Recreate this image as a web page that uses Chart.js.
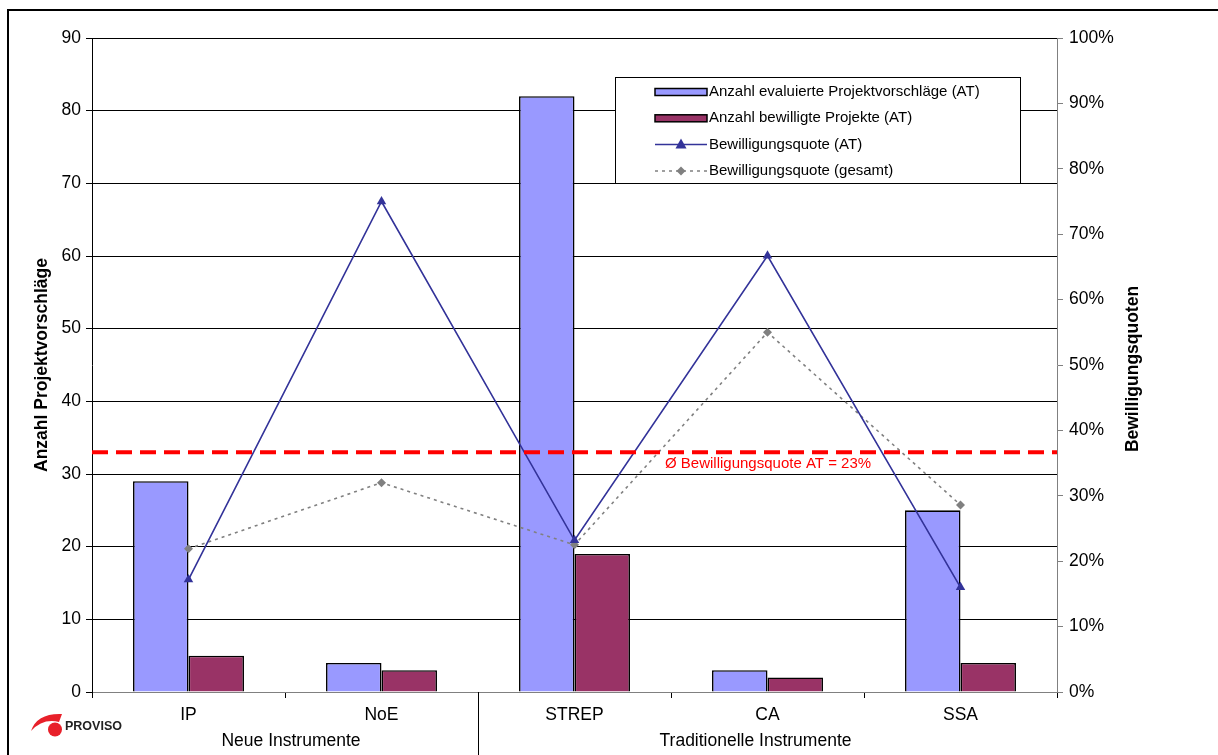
<!DOCTYPE html>
<html>
<head>
<meta charset="utf-8">
<script src="https://cdn.jsdelivr.net/npm/chart.js@4/dist/chart.umd.min.js"></script>
<style>
  html, body { margin: 0; padding: 0; background: #fff; }
  #wrap { width: 1218px; height: 755px; position: relative; }
</style>
</head>
<body>
<div id="wrap"><canvas id="chart" width="1218" height="755"></canvas></div>
<script>
// Instrumente und Werte
const instruments = ["IP", "NoE", "STREP", "CA", "SSA"];
const groups = [
    { label: "Neue Instrumente", from: 0, to: 1, shift: 6 },
    { label: "Traditionelle Instrumente", from: 2, to: 4, shift: -12 }
];
const evaluatedProposals = [29, 4, 82, 3, 25];
const approvedProjects = [5, 3, 19, 2, 4];
const approvalRateAT = [17.2, 75.0, 23.2, 66.7, 16.0];
const approvalRateTotal = [21.9, 32.0, 22.5, 55.0, 28.6];
const countTicks = [0, 10, 20, 30, 40, 50, 60, 70, 80, 90];
const rateTicks = [0, 10, 20, 30, 40, 50, 60, 70, 80, 90, 100];

// Ø-Linie (auf der linken Achse eingezeichnet)
const averageLineLevel = 33;
const averageLineLabel = "Ø Bewilligungsquote AT = 23%";

const FONT = "'Liberation Sans', Arial, sans-serif";
const BLUE = "#9999FF";
const WINE = "#993366";
const NAVY = "#333399";
const GREY = "#808080";

const legendItems = [
    { type: "bar", color: BLUE, text: "Anzahl evaluierte Projektvorschläge (AT)" },
    { type: "bar", color: WINE, text: "Anzahl bewilligte Projekte (AT)" },
    { type: "line", color: NAVY, text: "Bewilligungsquote (AT)" },
    { type: "dotted", color: GREY, text: "Bewilligungsquote (gesamt)" }
];

function drawTriangle(ctx, x, y, r, color) {
    ctx.beginPath();
    ctx.moveTo(x, y - r);
    ctx.lineTo(x + r, y + r * 0.8);
    ctx.lineTo(x - r, y + r * 0.8);
    ctx.closePath();
    ctx.fillStyle = color;
    ctx.fill();
}

function drawDiamond(ctx, x, y, r, color) {
    ctx.beginPath();
    ctx.moveTo(x, y - r);
    ctx.lineTo(x + r, y);
    ctx.lineTo(x, y + r);
    ctx.lineTo(x - r, y);
    ctx.closePath();
    ctx.fillStyle = color;
    ctx.fill();
}

const decorations = {
    id: "decorations",
    afterDatasetsDraw(chart) {
        const { ctx, chartArea, scales } = chart;
        const yL = scales.y;

        // rote Ø-Linie
        const ya = yL.getPixelForValue(averageLineLevel);
        ctx.save();
        ctx.strokeStyle = "#FF0000";
        ctx.lineWidth = 4;
        ctx.setLineDash([16, 8]);
        ctx.beginPath();
        ctx.moveTo(chartArea.left, ya);
        ctx.lineTo(chartArea.right, ya);
        ctx.stroke();
        ctx.setLineDash([]);
        ctx.fillStyle = "#FF0000";
        ctx.font = "15px " + FONT;
        ctx.textAlign = "left";
        ctx.textBaseline = "middle";
        ctx.fillText(averageLineLabel, 665, ya + 12);
        ctx.restore();

        // Legende
        ctx.save();
        const lx = 615, ly = 77, lw = 405, lh = 106;
        ctx.fillStyle = "#fff";
        ctx.fillRect(lx, ly, lw, lh);
        ctx.strokeStyle = "#000";
        ctx.lineWidth = 1;
        ctx.strokeRect(lx + 0.5, ly + 0.5, lw, lh);
        ctx.font = "15px " + FONT;
        ctx.textBaseline = "middle";
        ctx.textAlign = "left";
        legendItems.forEach((item, i) => {
            const cy = 92 + i * 26.3;
            if (item.type === "bar") {
                ctx.fillStyle = item.color;
                ctx.fillRect(655, cy - 3.5, 52, 7);
                ctx.strokeStyle = "#000";
                ctx.lineWidth = 1.5;
                ctx.strokeRect(655, cy - 3.5, 52, 7);
            } else if (item.type === "line") {
                ctx.strokeStyle = item.color;
                ctx.lineWidth = 1.5;
                ctx.beginPath();
                ctx.moveTo(655, cy);
                ctx.lineTo(707, cy);
                ctx.stroke();
                drawTriangle(ctx, 681, cy - 0.5, 5.5, item.color);
            } else {
                ctx.strokeStyle = item.color;
                ctx.lineWidth = 1.5;
                ctx.setLineDash([3, 4]);
                ctx.beginPath();
                ctx.moveTo(655, cy);
                ctx.lineTo(707, cy);
                ctx.stroke();
                ctx.setLineDash([]);
                drawDiamond(ctx, 681, cy, 4.5, item.color);
            }
            ctx.fillStyle = "#000";
            ctx.fillText(item.text, 709, cy);
        });
        ctx.restore();
    },
    afterDraw(chart) {
        const { ctx, chartArea } = chart;
        const step = (chartArea.right - chartArea.left) / instruments.length;

        ctx.save();
        // Gruppentrenner und Gruppenbeschriftung
        ctx.strokeStyle = "#000";
        ctx.lineWidth = 1;
        groups.forEach(g => {
            const left = chartArea.left + g.from * step;
            const right = chartArea.left + (g.to + 1) * step;
            if (g.from > 0) {
                ctx.beginPath();
                ctx.moveTo(Math.round(left) + 0.5, chartArea.bottom);
                ctx.lineTo(Math.round(left) + 0.5, 755);
                ctx.stroke();
            }
            ctx.fillStyle = "#000";
            ctx.font = "17.5px " + FONT;
            ctx.textAlign = "center";
            ctx.textBaseline = "middle";
            ctx.fillText(g.label, (left + right) / 2 + g.shift, 741);
        });

        // Achsentitel
        ctx.font = "bold 17.5px " + FONT;
        ctx.fillStyle = "#000";
        ctx.textAlign = "center";
        ctx.textBaseline = "middle";
        ctx.save();
        ctx.translate(42, 365);
        ctx.rotate(-Math.PI / 2);
        ctx.fillText("Anzahl Projektvorschläge", 0, 0);
        ctx.restore();
        ctx.save();
        ctx.translate(1133, 369);
        ctx.rotate(-Math.PI / 2);
        ctx.fillText("Bewilligungsquoten", 0, 0);
        ctx.restore();

        // Rahmen
        ctx.strokeStyle = "#000";
        ctx.lineWidth = 2;
        ctx.strokeRect(8, 10, 1400, 900);

        // Logo
        ctx.fillStyle = "#E8202A";
        ctx.beginPath();
        ctx.moveTo(31, 731);
        ctx.quadraticCurveTo(37, 713, 62, 714);
        ctx.lineTo(59, 722);
        ctx.quadraticCurveTo(43, 718, 31, 731);
        ctx.closePath();
        ctx.fill();
        ctx.beginPath();
        ctx.arc(55, 729.5, 7, 0, Math.PI * 2);
        ctx.fill();
        ctx.fillStyle = "#222";
        ctx.font = "bold 12.5px " + FONT;
        ctx.textAlign = "left";
        ctx.fillText("PROVISO", 65, 727);
        ctx.restore();
    }
};

new Chart(document.getElementById("chart"), {
    type: "bar",
    data: {
        labels: instruments,
        datasets: [
            {
                label: "Anzahl evaluierte Projektvorschläge (AT)",
                data: evaluatedProposals,
                backgroundColor: BLUE,
                borderColor: "#000",
                borderWidth: 1.6,
                yAxisID: "y",
                order: 2
            },
            {
                label: "Anzahl bewilligte Projekte (AT)",
                data: approvedProjects,
                backgroundColor: WINE,
                borderColor: "#000",
                borderWidth: 1.6,
                yAxisID: "y",
                order: 2
            },
            {
                type: "line",
                label: "Bewilligungsquote (gesamt)",
                data: approvalRateTotal,
                borderColor: GREY,
                borderWidth: 1.6,
                borderDash: [3, 4],
                pointStyle: "rectRot",
                pointRadius: 4.5,
                pointBackgroundColor: GREY,
                pointBorderColor: GREY,
                pointBorderWidth: 0,
                tension: 0,
                yAxisID: "y1",
                order: 1
            },
            {
                type: "line",
                label: "Bewilligungsquote (AT)",
                data: approvalRateAT,
                borderColor: NAVY,
                borderWidth: 1.6,
                pointStyle: "triangle",
                pointRadius: 5.5,
                pointBackgroundColor: NAVY,
                pointBorderColor: NAVY,
                pointBorderWidth: 0,
                tension: 0,
                yAxisID: "y1",
                order: 0
            }
        ]
    },
    options: {
        responsive: false,
        animation: false,
        events: [],
        layout: {
            padding: { top: 38, left: 0, right: 0, bottom: 0 }
        },
        datasets: {
            bar: {
                categoryPercentage: 0.575,
                barPercentage: 1
            }
        },
        plugins: {
            legend: { display: false },
            tooltip: { enabled: false }
        },
        scales: {
            x: {
                offset: true,
                afterFit(scale) { scale.height = 63; },
                grid: {
                    offset: true,
                    drawOnChartArea: false,
                    drawTicks: true,
                    tickLength: 6,
                    color: "#000"
                },
                border: { display: true, color: GREY, width: 1 },
                ticks: {
                    color: "#000",
                    padding: 7,
                    font: { family: FONT, size: 17.5 }
                }
            },
            y: {
                position: "left",
                min: 0,
                max: 90,
                afterFit(scale) { scale.width = 92; },
                afterBuildTicks(scale) { scale.ticks = countTicks.map(v => ({ value: v })); },
                grid: {
                    color: "#000",
                    lineWidth: 1,
                    tickLength: 6,
                    drawTicks: true
                },
                border: { display: true, color: "#000", width: 1 },
                ticks: {
                    color: "#000",
                    padding: 5,
                    font: { family: FONT, size: 17.5 }
                }
            },
            y1: {
                position: "right",
                min: 0,
                max: 100,
                afterFit(scale) { scale.width = 161; },
                afterBuildTicks(scale) { scale.ticks = rateTicks.map(v => ({ value: v })); },
                grid: {
                    drawOnChartArea: false,
                    drawTicks: true,
                    tickLength: 6,
                    color: GREY
                },
                border: { display: true, color: GREY, width: 1 },
                ticks: {
                    color: "#000",
                    padding: 6,
                    font: { family: FONT, size: 17.5 },
                    callback: v => v + "%"
                }
            }
        }
    },
    plugins: [decorations]
});
</script>
</body>
</html>
